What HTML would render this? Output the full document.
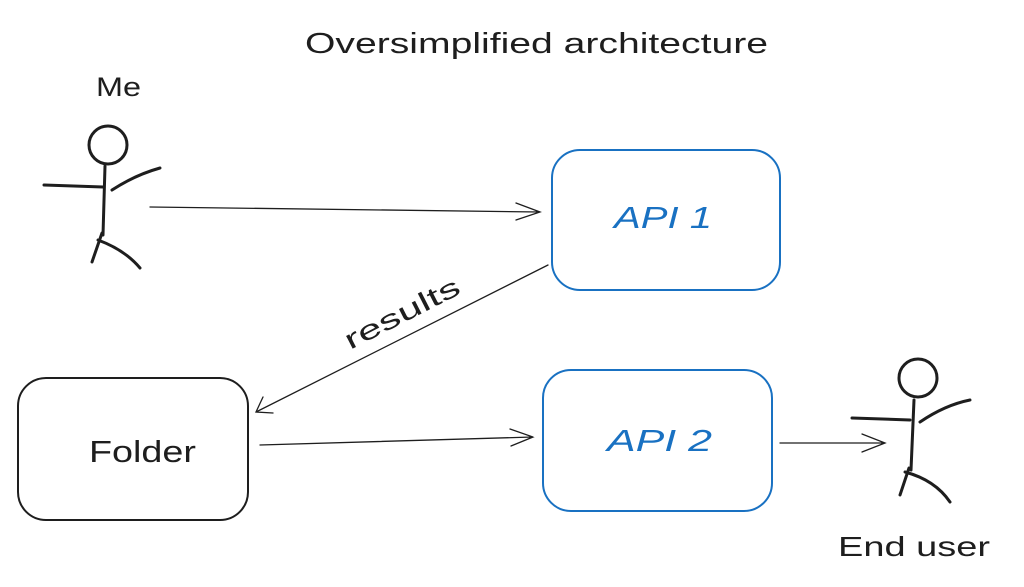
<!DOCTYPE html>
<html><head><meta charset="utf-8"><style>
html,body{margin:0;padding:0;background:#fff;width:1024px;height:587px;overflow:hidden}
svg{display:block}
text{font-family:"Liberation Sans","DejaVu Sans",sans-serif}
</style></head><body>
<svg width="1024" height="587" viewBox="0 0 1024 587" xmlns="http://www.w3.org/2000/svg">
<text x="305" y="53" font-size="29" textLength="463" lengthAdjust="spacingAndGlyphs" fill="#1e1e1e">Oversimplified architecture</text>
<text x="96" y="96" font-size="27" textLength="45" lengthAdjust="spacingAndGlyphs" fill="#1e1e1e">Me</text>
<g stroke="#1e1e1e" stroke-width="3" fill="none" stroke-linecap="round">
<circle cx="108" cy="145" r="19"/>
<path d="M105 166 L103 235 M44 185 L103 187 M112 190 Q135 175 160 168 M102 233 L92 262 M98 240 Q125 250 140 268"/>
<circle cx="918" cy="378" r="19"/>
<path d="M914 400 L911 470 M852 418 L910 420 M920 422 Q945 405 970 400 M909 468 L900 495 M905 472 Q935 480 950 502"/>
</g>
<text x="838" y="556" font-size="28" textLength="152" lengthAdjust="spacingAndGlyphs" fill="#1e1e1e">End user</text>
<g stroke="#1971c2" stroke-width="2" fill="none">
<rect x="552" y="150" width="228" height="140" rx="28"/>
<rect x="543" y="370" width="229" height="141" rx="28"/>
</g>
<rect x="18" y="378" width="230" height="142" rx="28" stroke="#1e1e1e" stroke-width="2" fill="none"/>
<text x="614" y="228" font-size="31" font-style="italic" textLength="98" lengthAdjust="spacingAndGlyphs" fill="#1971c2">API 1</text>
<text x="607" y="451" font-size="31" font-style="italic" textLength="105" lengthAdjust="spacingAndGlyphs" fill="#1971c2">API 2</text>
<text x="89" y="462" font-size="31" textLength="107" lengthAdjust="spacingAndGlyphs" fill="#1e1e1e">Folder</text>
<g stroke="#1e1e1e" stroke-width="1.3" fill="none" stroke-linecap="round">
<path d="M150 207 L540 212 M516 203 L540 212 L516 220"/>
<path d="M548 265 L256 412 M263 397 L256 412 L273 413"/>
<path d="M260 445 L533 437 M510 429 L533 437 L511 446"/>
<path d="M780 443 L885 443 M862 434 L885 443 L862 452"/>
</g>
<text x="350" y="350" font-size="27" textLength="126" lengthAdjust="spacingAndGlyphs" fill="#1e1e1e" transform="rotate(-27 350 350)">results</text>
</svg>
</body></html>
